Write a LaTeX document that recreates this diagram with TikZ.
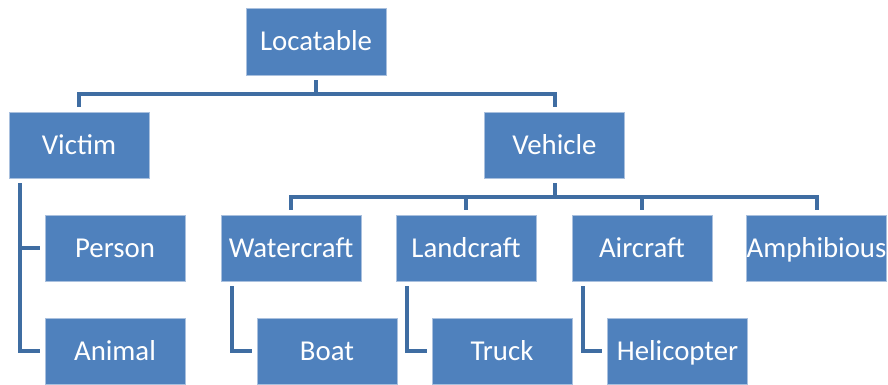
\documentclass[tikz,border=0pt]{standalone}
\usepackage{fontspec}
\setmainfont{Carlito}
\definecolor{boxfill}{HTML}{4F81BD}
\definecolor{boxedge}{HTML}{A9C0DE}
\definecolor{linkcol}{HTML}{3F6DA2}
\begin{document}
\begin{tikzpicture}[x=1pt,y=1pt,
  box/.style={rectangle, fill=boxfill, draw=boxedge, line width=0.6pt,
    minimum width=140pt, minimum height=66pt, inner sep=0pt,
    text=white, font=\fontsize{28.8}{28.8}\selectfont, text height=18.5pt, text depth=0pt},
  link/.style={draw=linkcol, line width=4pt, line join=miter, shorten <=5pt, shorten >=5pt}]
\useasboundingbox[fill=white] (0,0) rectangle (888,385);

% top level
\node[box, minimum height=67pt] (loc) at (316,343.5) {Locatable};
% second level
\node[box] (vic) at (79,240) {Victim};
\node[box] (veh) at (554.5,240) {Vehicle};
% third level
\node[box] (per) at (115,137) {Person};
\node[box] (wat) at (291,137) {Watercraft};
\node[box] (lan) at (466,137) {Landcraft};
\node[box] (air) at (642,137) {Aircraft};
\node[box] (amp) at (816.5,137) {Amphibious};
% fourth level
\node[box] (ani) at (115,34) {Animal};
\node[box] (boa) at (327,34) {Boat};
\node[box] (tru) at (502,34) {Truck};
\node[box] (hel) at (677.5,34) {Helicopter};

% connectors from the root
\draw[link] (loc.south) -- ++(0,-19) -| (vic.north);
\draw[link] (loc.south) -- ++(0,-19) -| (veh.north);
% connectors from Vehicle
\draw[link] (veh.south) -- ++(0,-19) -| (wat.north);
\draw[link] (veh.south) -- ++(0,-19) -| (lan.north);
\draw[link] (veh.south) -- ++(0,-19) -| (air.north);
\draw[link] (veh.south) -- ++(0,-19) -| (amp.north);
% side connectors
\draw[link] ([xshift=11pt]vic.south west) |- (per.west);
\draw[link] ([xshift=11pt]vic.south west) |- (ani.west);
\draw[link] ([xshift=11pt]wat.south west) |- (boa.west);
\draw[link] ([xshift=11pt]lan.south west) |- (tru.west);
\draw[link] ([xshift=11pt]air.south west) |- (hel.west);
\end{tikzpicture}
\end{document}
